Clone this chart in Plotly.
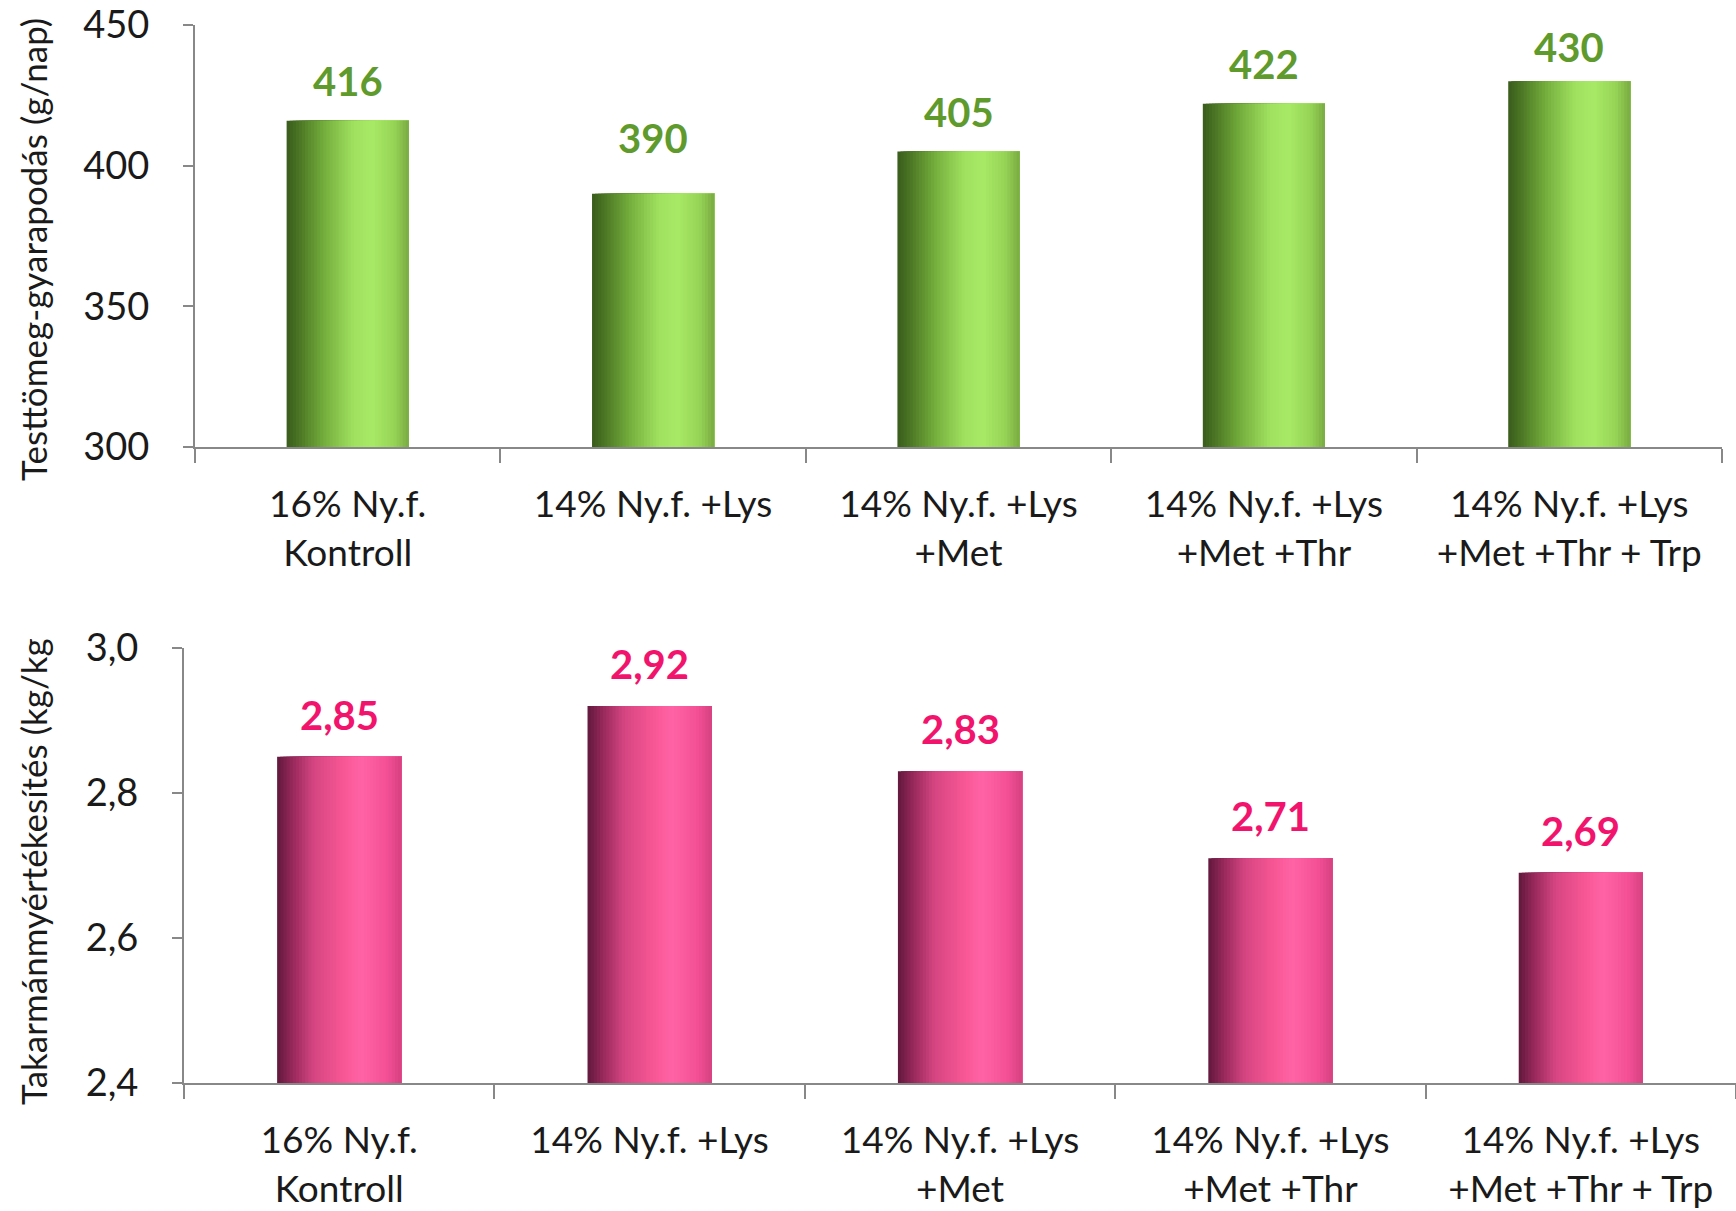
import plotly.graph_objects as go

categories = [
    "16% Ny.f.<br>Kontroll",
    "14% Ny.f. +Lys",
    "14% Ny.f. +Lys<br>+Met",
    "14% Ny.f. +Lys<br>+Met +Thr",
    "14% Ny.f. +Lys<br>+Met +Thr + Trp",
]
gain_values = [416, 390, 405, 422, 430]          # g/nap
fcr_values = [2.85, 2.92, 2.83, 2.71, 2.69]      # kg/kg

gain_title = "Testtömeg-gyarapodás (g/nap)"
fcr_title = "Takarmánmyértékesítés (kg/kg"

# per-label vertical nudges (pixels) as placed in the original
gain_label_shift = [14, 30, 14, 14, 8]
fcr_label_shift = [16, 16, 16, 16, 16]

FONT = "Lato"
GREEN_TXT = "#5f9a2c"
PINK_TXT = "#f2136c"
AXIS_COL = "#888888"

green_stops = [(0.0, (58, 92, 28)), (0.12, (78, 122, 38)), (0.3, (115, 172, 60)),
               (0.55, (160, 226, 96)), (0.7, (168, 234, 102)), (0.88, (150, 212, 86)),
               (1.0, (122, 172, 66))]
pink_stops = [(0.0, (96, 24, 60)), (0.12, (150, 40, 90)), (0.3, (214, 70, 130)),
              (0.55, (250, 88, 150)), (0.68, (255, 100, 166)), (0.88, (244, 80, 150)),
              (1.0, (214, 66, 130))]


def interp(stops, t):
    for (p0, c0), (p1, c1) in zip(stops[:-1], stops[1:]):
        if p0 <= t <= p1:
            f = (t - p0) / (p1 - p0) if p1 > p0 else 0
            c = [round(a + (b - a) * f) for a, b in zip(c0, c1)]
            return f"rgb({c[0]},{c[1]},{c[2]})"
    c = stops[-1][1]
    return f"rgb({c[0]},{c[1]},{c[2]})"


fig = go.Figure()

N = 40
BW = 0.4
sw = BW / N


def add_gradient_bars(vals, stops, xa, ya):
    n = len(vals)
    for i in range(N):
        t = (i + 0.5) / N
        fig.add_trace(go.Bar(
            x=categories, y=vals,
            width=[BW - i * sw] * n, offset=[-BW / 2 + i * sw] * n,
            marker=dict(color=interp(stops, t), line=dict(width=0)),
            xaxis=xa, yaxis=ya, showlegend=False, hoverinfo="skip",
        ))


add_gradient_bars(gain_values, green_stops, "x", "y")
add_gradient_bars(fcr_values, pink_stops, "x2", "y2")

annotations = []
for c, v, s in zip(categories, gain_values, gain_label_shift):
    annotations.append(dict(x=c, y=v, xref="x", yref="y", text=f"<b>{v}</b>",
                            showarrow=False, yanchor="bottom", yshift=s,
                            font=dict(family=FONT, size=40, color=GREEN_TXT)))
for c, v, s in zip(categories, fcr_values, fcr_label_shift):
    annotations.append(dict(x=c, y=v, xref="x2", yref="y2",
                            text="<b>" + f"{v:.2f}".replace(".", ",") + "</b>",
                            showarrow=False, yanchor="bottom", yshift=s,
                            font=dict(family=FONT, size=40, color=PINK_TXT)))

annotations.append(dict(x=33 / 1736, y=1 - 250 / 1211, xref="paper", yref="paper",
                        text=gain_title, textangle=-90, showarrow=False,
                        xanchor="center", yanchor="middle",
                        font=dict(family=FONT, size=35, color="#1a1a1a")))
annotations.append(dict(x=33 / 1736, y=1 - 872 / 1211, xref="paper", yref="paper",
                        text=fcr_title, textangle=-90, showarrow=False,
                        xanchor="center", yanchor="middle",
                        font=dict(family=FONT, size=35, color="#1a1a1a")))

xcommon = dict(type="category", showline=True, linecolor=AXIS_COL, linewidth=2,
               ticks="outside", tickson="boundaries", ticklen=14, tickwidth=2,
               tickcolor=AXIS_COL, showgrid=False, zeroline=False,
               tickfont=dict(family=FONT, size=37, color="#1a1a1a"),
               range=[-0.5, 4.5], automargin=False, ticklabelstandoff=24)
ycommon = dict(showline=True, linecolor=AXIS_COL, linewidth=2, ticks="outside",
               ticklen=10, tickwidth=2, tickcolor=AXIS_COL, showgrid=False,
               zeroline=False, tickfont=dict(family=FONT, size=38, color="#1a1a1a"),
               automargin=False, ticklabelstandoff=26)

fig.update_layout(
    width=1736, height=1211,
    margin=dict(l=0, r=0, t=0, b=0),
    paper_bgcolor="white", plot_bgcolor="white",
    barmode="overlay", separators=", ",
    xaxis=dict(**xcommon, domain=[195 / 1736, 1722 / 1736], anchor="y"),
    yaxis=dict(**ycommon, domain=[1 - 447 / 1211, 1 - 25 / 1211], anchor="x",
               range=[300, 450], dtick=50, tick0=300),
    xaxis2=dict(**xcommon, domain=[184 / 1736, 1.0], anchor="y2"),
    yaxis2=dict(**ycommon, domain=[1 - 1083 / 1211, 1 - 648 / 1211], anchor="x2",
                range=[2.4, 3.0], dtick=0.2, tick0=2.4, tickformat=".1f"),
    annotations=annotations,
    font=dict(family=FONT),
)

fig.write_html("out.html")
